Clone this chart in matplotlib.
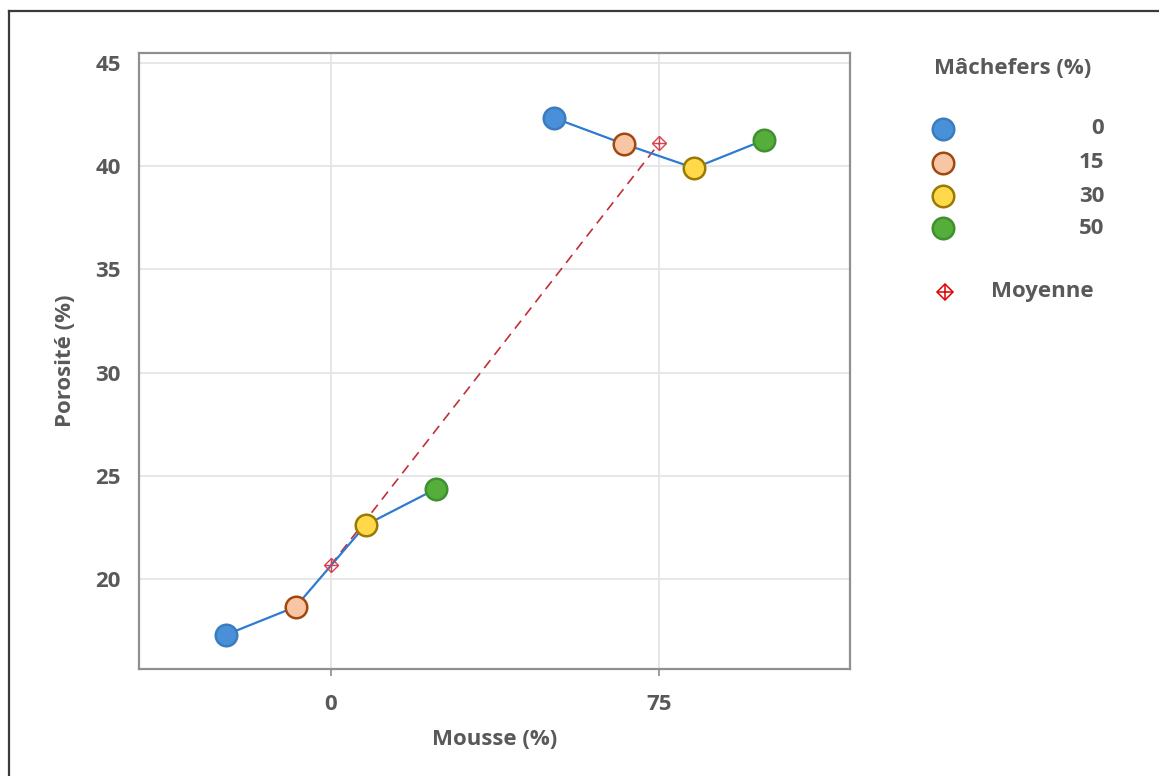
import matplotlib
matplotlib.use('Agg')
import matplotlib.pyplot as plt
import numpy as np
from matplotlib.lines import Line2D

plt.rcParams['font.family'] = ['Open Sans', 'DejaVu Sans']
plt.rcParams['font.weight'] = 'bold'

# data
mousse_labels = ['0', '75']
machefers_labels = ['0', '15', '30', '50']
porosite_mousse_0 = [17.30, 18.66, 22.62, 24.36]
porosite_mousse_75 = [42.32, 41.06, 39.90, 41.26]
moyenne = [20.67, 41.11]

face_colors = ['#4A90D9', '#F8C6A4', '#FFD94A', '#55AE3A']
edge_colors = ['#3A7CC0', '#A2480E', '#9A7A00', '#3F9030']
TXT = '#595959'
FS = 16

fig = plt.figure(figsize=(11.59, 7.76), dpi=100)
W, H = 1159, 776

# figure frame (top and left edges visible)
fig.add_artist(Line2D([9 / W, 9 / W], [0, 1 - 11 / H], transform=fig.transFigure, color='#3A3A3A', lw=1.6))
fig.add_artist(Line2D([9 / W, 1], [1 - 11 / H, 1 - 11 / H], transform=fig.transFigure, color='#3A3A3A', lw=1.6))

left, right, top, bottom = 139, 850, 53, 669
ax = fig.add_axes([left / W, 1 - bottom / H, (right - left) / W, (bottom - top) / H])

x_groups = np.arange(len(mousse_labels))
offsets = (np.arange(len(machefers_labels)) - 1.5) * 0.213

for gi, vals in enumerate([porosite_mousse_0, porosite_mousse_75]):
    xs = x_groups[gi] + offsets
    ax.plot(xs, vals, color='#2E7BCF', lw=1.6, zorder=3)
    for k in range(len(vals)):
        ax.plot(xs[k], vals[k], 'o', ms=15.5, mfc=face_colors[k], mec=edge_colors[k], mew=1.8, zorder=4)

ax.plot(x_groups, moyenne, color='#C0303A', lw=1.2, dashes=(6, 4), zorder=2)
ax.plot(x_groups, moyenne, 'D', ms=7, mfc='none', mec='#D94050', mew=1.0, zorder=5)
ax.plot(x_groups, moyenne, '+', ms=10, mec='#D94050', mew=1.0, zorder=5)

ax.set_xlim(-0.583, 1.580)
ax.set_ylim(15.65, 45.47)
ax.set_xticks(x_groups)
ax.set_xticklabels(mousse_labels)
ax.set_yticks([20, 25, 30, 35, 40, 45])
ax.tick_params(axis='x', length=5, width=1.2, color='#8C8C8C', pad=13, labelsize=FS, labelcolor=TXT)
ax.tick_params(axis='y', length=0, pad=13, labelsize=FS, labelcolor=TXT)
for lab in ax.get_xticklabels() + ax.get_yticklabels():
    lab.set_fontweight('bold')

ax.grid(True, color='#E3E3E3', lw=1.2, zorder=0)
ax.set_axisbelow(True)
for s in ax.spines.values():
    s.set_color('#909090')
    s.set_linewidth(1.6)

ax.set_xlabel('Mousse (%)', fontsize=FS, fontweight='bold', color=TXT, labelpad=10)
ax.set_ylabel('Porosité (%)', fontsize=FS, fontweight='bold', color=TXT, labelpad=14)

# legend on the right
fig.text(934 / W, 1 - 68 / H, 'Mâchefers (%)', fontsize=FS, fontweight='bold', color=TXT, va='center', ha='left')
leg_y = [129, 163, 196, 228]
for k, lab in enumerate(machefers_labels):
    fig.add_artist(Line2D([943 / W], [1 - leg_y[k] / H], transform=fig.transFigure, marker='o', ms=15.5,
                          mfc=face_colors[k], mec=edge_colors[k], mew=1.8, ls='none'))
    fig.text(1104 / W, 1 - leg_y[k] / H, lab, fontsize=FS, fontweight='bold', color=TXT, va='center', ha='right')
fig.add_artist(Line2D([945 / W], [1 - 292 / H], transform=fig.transFigure, marker='D', ms=8,
                      mfc='none', mec='#E00000', mew=1.1, ls='none'))
fig.add_artist(Line2D([945 / W], [1 - 292 / H], transform=fig.transFigure, marker='+', ms=11,
                      mec='#E00000', mew=1.1, ls='none'))
fig.text(991 / W, 1 - 292 / H, 'Moyenne', fontsize=FS, fontweight='bold', color=TXT, va='center', ha='left')

fig.savefig('out.png', dpi=100)
